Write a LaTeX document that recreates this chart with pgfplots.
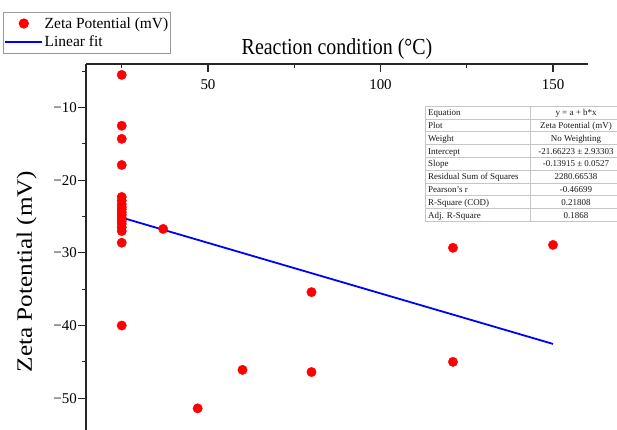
\documentclass[border=0pt]{standalone}
\usepackage{pgfplots}
\pgfplotsset{compat=1.18}
\usepackage{fontspec}
\setmainfont{Liberation Serif}
\pgfplotsset{
  my mark legend/.style={legend image code/.code={\draw[##1,mark repeat=2,mark phase=2] plot coordinates {(0bp,0bp)(18.5bp,0bp)(37bp,0bp)};}},
  my line legend/.style={legend image code/.code={\draw[##1] (0bp,0bp) -- (37bp,0bp);}},
}
\begin{document}
\begin{tikzpicture}
\useasboundingbox (0bp,0bp) rectangle (617bp,-430bp);
\clip (0bp,0bp) rectangle (617bp,-430bp);
\begin{axis}[
  at={(86bp,-64bp)}, anchor=north west,
  scale only axis, width=502bp, height=435.9bp,
  xmin=14.64, xmax=160.14, ymin=-64, ymax=-4,
  axis x line*=top, axis y line*=left,
  axis line style={line width=1.3bp, color=black!85},
  xtick={50,100,150}, xticklabels={50,100,150},
  minor xtick={25,75,125},
  ytick={-10,-20,-30,-40,-50},
  yticklabels={−10,−20,−30,−40,−50},
  minor ytick={-5,-15,-25,-35,-45,-55},
  xtick align=inside, ytick align=outside,
  major tick length=7.5bp, minor tick length=4bp,
  every tick/.style={line width=1.1bp, black!85},
  tick label style={font=\fontsize{15}{17}\selectfont},
  xticklabel style={anchor=north, inner sep=0pt, yshift=-15bp},
  yticklabel style={inner sep=1.5bp},
  /pgf/number format/assume math mode=true,
  xlabel={\scalebox{1}[1.15]{Reaction condition (°C)}},
  xlabel style={at={(axis description cs:0.5,1)}, anchor=base, yshift=10bp, font=\fontsize{20}{24}\selectfont},
  ylabel={\scalebox{1.15}[1]{Zeta Potential (mV)}},
  ylabel style={at={(axis description cs:-0.1076,0.524)}, anchor=base, font=\fontsize{22}{26}\selectfont},
  legend style={at={(axis description cs:-0.1653,1.1193)}, anchor=north west,
    draw=gray!80, line width=0.8bp, font=\fontsize{15.5}{17}\selectfont,
    inner xsep=1bp, inner ysep=3.5bp, row sep=3bp,
    nodes={inner sep=1.5bp}},
  legend cell align=left,
  clip=false,
]
\addplot[only marks, mark=*, mark size=4.7bp, color=red, fill=red, my mark legend]
coordinates {
(25,-5.5) (25,-12.5) (25,-14.3) (25,-17.9) (25,-22.3) (25,-22.8) (25,-23.3)
(25,-23.7) (25,-24.0) (25,-24.4) (25,-24.8) (25,-25.2) (25,-25.6) (25,-26.0)
(25,-26.5) (25,-27.0) (25,-28.6) (25,-40.0)
(37,-26.7) (47,-51.4) (60,-46.1) (80,-35.4) (80,-46.4) (121,-29.3) (121,-45.0) (150,-28.9)
};
\addlegendentry{Zeta Potential (mV)}
\addplot[color=blue, line width=1.8bp, my line legend]
coordinates {(25,-25.14) (150,-42.53)};
\addlegendentry{Linear fit}
\end{axis}
\begin{scope}[x=1bp,y=-1bp, font=\fontsize{9}{10}\selectfont]
\fill[white] (425,106) rectangle (630,221.2);
\foreach \k in {0,...,9} {\draw[gray!45, line width=0.6bp] (425,106+12.8*\k) -- (630,106+12.8*\k);}
\draw[gray!45, line width=0.6bp] (425,106) -- (425,221.2);
\draw[gray!45, line width=0.6bp] (530,106) -- (530,221.2);
\foreach \a/\b [count=\k from 0] in {Equation/{y = a + b*x}, Plot/{Zeta Potential (mV)}, Weight/{No Weighting}, Intercept/{-21.66223 ± 2.93303}, Slope/{-0.13915 ± 0.0527}, Residual Sum of Squares/{2280.66538}, Pearson's r/{-0.46699}, R-Square (COD)/{0.21808}, Adj. R-Square/{0.1868}}{
  \node[anchor=base west, inner sep=0pt, black!90] at (428,115.6+12.8*\k) {\a};
  \node[anchor=base, inner sep=0pt, black!90] at (576,115.6+12.8*\k) {\b};
}
\end{scope}
\end{tikzpicture}
\end{document}
